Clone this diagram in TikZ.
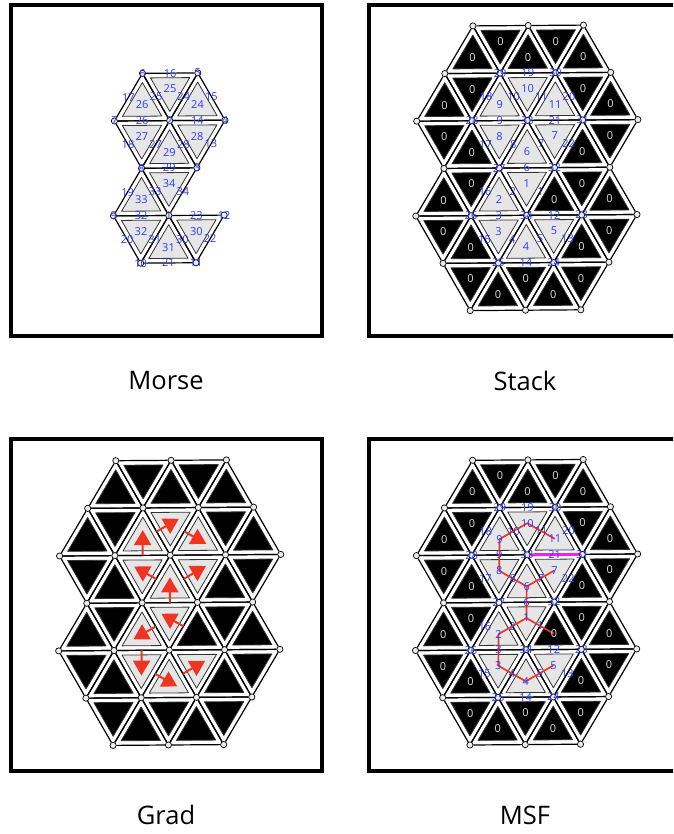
\documentclass[tikz,border=0pt]{standalone}
\usepackage{fontspec}
\setmainfont{Open Sans}
\usetikzlibrary{calc,arrows.meta}

\definecolor{cellk}{HTML}{000000}
\definecolor{cellg}{HTML}{E6E6E6}
\definecolor{numk}{HTML}{DDDDDD}
\definecolor{numg}{HTML}{2B3BFF}
\definecolor{gradred}{HTML}{EE3524}
\definecolor{saddle}{HTML}{EE22EE}

\tikzset{
  panel/.style={line width=4pt,draw=black},
  vtx/.style={circle,draw=black,fill=black!8,line width=0.7pt,inner sep=0pt,minimum size=6.2pt},
  meshline/.style={line width=1.2pt,draw=black},
  cellface/.style={line width=0.8pt,draw=black!80,line join=round},
  lab/.style={font=\fontsize{11}{12}\selectfont,inner sep=0pt},
  caption/.style={font=\fontsize{25.5}{28}\selectfont,inner sep=0pt},
  gradarrow/.style={draw=gradred,line width=2pt,-{Triangle[length=15pt,width=17pt]}},
  msfpath/.style={draw=gradred,line width=1.7pt,line join=round},
}

% lattice nodes: i runs over half cells, 4 is the middle, j is the row
\newcommand{\meshnodes}[4]{
  \foreach \i/\j in #4 {
    \node[vtx] (#1\i-\j) at ({#2+(\i-4)*27.65-(\j-2)*0.45},{#3+(\j-2)*47.45-(\i-4)*0.2}) {};}
}
\newcommand{\drawcell}[6]{
  \draw[meshline] (#1#3) -- (#1#4) (#1#4) -- (#1#5) (#1#5) -- (#1#3);
  \coordinate (#1#2) at ($1/3*(#1#3)+1/3*(#1#4)+1/3*(#1#5)$);
  \filldraw[cellface,fill=cell#6] ($(#1#2)!0.71!(#1#3)$) -- ($(#1#2)!0.71!(#1#4)$) -- ($(#1#2)!0.71!(#1#5)$) -- cycle;
}
\newcommand{\upcell}[4]{
  \pgfmathtruncatemacro{\il}{#2-1}\pgfmathtruncatemacro{\ir}{#2+1}\pgfmathtruncatemacro{\jb}{#3+1}
  \drawcell{#1}{u#2-#3}{#2-#3}{\il-\jb}{\ir-\jb}{#4}
}
\newcommand{\dncell}[4]{
  \pgfmathtruncatemacro{\im}{#2+1}\pgfmathtruncatemacro{\ir}{#2+2}\pgfmathtruncatemacro{\jb}{#3+1}
  \drawcell{#1}{d#2-#3}{#2-#3}{\ir-#3}{\im-\jb}{#4}
}
\newcommand{\cells}[3]{
  \foreach \i/\j/\c/\t in #2 {\upcell{#1}{\i}{\j}{\c}}
  \foreach \i/\j/\c/\t in #3 {\dncell{#1}{\i}{\j}{\c}}
}
\newcommand{\celllabels}[3]{
  \foreach \i/\j/\c/\t in #2 {\node[lab,text=num\c] (#1lu\i-\j) at (#1u\i-\j) {\t};}
  \foreach \i/\j/\c/\t in #3 {\node[lab,text=num\c] (#1ld\i-\j) at (#1d\i-\j) {\t};}
}
\newcommand{\edgelabels}[2]{
  \foreach \a/\b/\t in #2 {\node[lab,text=numg] (#1e\t) at ($(#1\a)!0.5!(#1\b)$) {\t};}
}
\newcommand{\vtxlabels}[2]{
  \foreach \a/\t in #2 {\node[lab,text=numg] (#1n\t) at (#1\a) {\t};}
}

\newcommand{\fullnodes}{2/0,4/0,6/0,1/1,3/1,5/1,7/1,0/2,2/2,4/2,6/2,8/2,1/3,3/3,5/3,7/3,0/4,2/4,4/4,6/4,8/4,1/5,3/5,5/5,7/5,2/6,4/6,6/6}
\newcommand{\fullups}{2/0/k/0,4/0/k/0,6/0/k/0,1/1/k/0,3/1/g/9,5/1/g/11,7/1/k/0,2/2/k/0,4/2/g/6,6/2/k/0,1/3/k/0,3/3/g/2,5/3/k/0,7/3/k/0,2/4/k/0,4/4/g/4,6/4/k/0,3/5/k/0,5/5/k/0}
\newcommand{\fulldns}{2/0/k/0,4/0/k/0,1/1/k/0,3/1/g/10,5/1/k/0,0/2/k/0,2/2/g/8,4/2/g/7,6/2/k/0,1/3/k/0,3/3/g/1,5/3/k/0,0/4/k/0,2/4/g/3,4/4/g/5,6/4/k/0,1/5/k/0,3/5/k/0,5/5/k/0}
\newcommand{\fulledges}{3-1/5-1/19,3-1/2-2/18,3-1/4-2/10,5-1/4-2/11,5-1/6-2/20,2-2/4-2/9,4-2/6-2/21,2-2/3-3/17,4-2/3-3/8,4-2/5-3/7,6-2/5-3/22,3-3/5-3/6,3-3/2-4/16,3-3/4-4/2,5-3/4-4/1,2-4/4-4/3,4-4/6-4/12,2-4/3-5/15,4-4/3-5/4,4-4/5-5/5,6-4/5-5/13,3-5/5-5/14}
\newcommand{\fullvtx}{3-1/29,5-1/30,2-2/28,4-2/33,6-2/31,3-3/27,5-3/32,2-4/26,4-4/34,6-4/23,3-5/25,5-5/24}

\begin{document}
\begin{tikzpicture}[x=1pt,y=-1pt]
  \path[use as bounding box,clip] (0,0) rectangle (673,834);

  \draw[panel] (11,5) rectangle (322,336);
  \draw[panel] (369,5) rectangle (680,336);
  \draw[panel] (11,439) rectangle (322,771);
  \draw[panel] (369,439) rectangle (680,771);

  % Morse
  \meshnodes{morse}{169.7}{120.6}{{3/1,5/1,2/2,4/2,6/2,3/3,5/3,2/4,4/4,6/4,3/5,5/5}}
  \cells{morse}{{3/1/g/26,5/1/g/24,4/2/g/29,3/3/g/33,4/4/g/31}}{{3/1/g/25,2/2/g/27,4/2/g/28,3/3/g/34,2/4/g/32,4/4/g/30}}
  \celllabels{morse}{{3/1/g/26,5/1/g/24,4/2/g/29,3/3/g/33,4/4/g/31}}{{3/1/g/25,2/2/g/27,4/2/g/28,3/3/g/34,2/4/g/32,4/4/g/30}}
  \edgelabels{morse}{{3-1/5-1/16,3-1/2-2/17,3-1/4-2/25,5-1/4-2/24,5-1/6-2/15,2-2/4-2/26,4-2/6-2/14,2-2/3-3/18,4-2/3-3/27,4-2/5-3/28,6-2/5-3/13,3-3/5-3/29,3-3/2-4/19,3-3/4-4/33,5-3/4-4/34,2-4/4-4/32,4-4/6-4/23,2-4/3-5/20,4-4/3-5/31,4-4/5-5/30,6-4/5-5/22,3-5/5-5/21}}
  \vtxlabels{morse}{{3-1/6,5-1/5,2-2/7,4-2/2,6-2/4,3-3/8,5-3/3,2-4/9,4-4/1,6-4/12,3-5/10,5-5/11}}
  \node[caption] (morsecap) at (166,381) {Morse};

  % Stack
  \meshnodes{stack}{527.3}{120.4}{\fullnodes}
  \cells{stack}{\fullups}{\fulldns}
  \celllabels{stack}{\fullups}{\fulldns}
  \edgelabels{stack}{\fulledges}
  \vtxlabels{stack}{\fullvtx}
  \node[caption] (stackcap) at (525,381) {Stack};

  % Grad
  \meshnodes{grad}{170.2}{555.2}{\fullnodes}
  \cells{grad}{\fullups}{\fulldns}
  \foreach \a/\b/\c in {2-2/4-2/u3-1,3-1/4-2/d3-1,5-1/4-2/u5-1,4-2/3-3/d2-2,3-3/5-3/u4-2,4-2/5-3/d4-2,5-3/4-4/d3-3,3-3/4-4/u3-3,2-4/4-4/d2-4,4-4/3-5/u4-4,4-4/5-5/d4-4}
    \draw[gradarrow] ($(grad\a)!0.5!(grad\b)$) -- ($($(grad\a)!0.5!(grad\b)$)!1.6!(grad\c)$);
  \node[caption] (gradcap) at (166,815) {Grad};

  % MSF
  \meshnodes{msf}{527}{554.8}{\fullnodes}
  \cells{msf}{\fullups}{\fulldns}
  \draw[msfpath] (msfu5-1) -- (msfd3-1) -- (msfu3-1) -- (msfd2-2) -- (msfu4-2) -- (msfd4-2);
  \draw[msfpath] (msfu4-2) -- (msfd3-3) -- (msfu5-3);
  \draw[msfpath] (msfd3-3) -- (msfu3-3) -- (msfd2-4) -- (msfu4-4) -- (msfd4-4);
  \draw[saddle,line width=3pt] (msf4-2) -- (msf6-2);
  \celllabels{msf}{\fullups}{\fulldns}
  \edgelabels{msf}{\fulledges}
  \vtxlabels{msf}{\fullvtx}
  \node[caption] (msfcap) at (525,815) {MSF};
\end{tikzpicture}
\end{document}
